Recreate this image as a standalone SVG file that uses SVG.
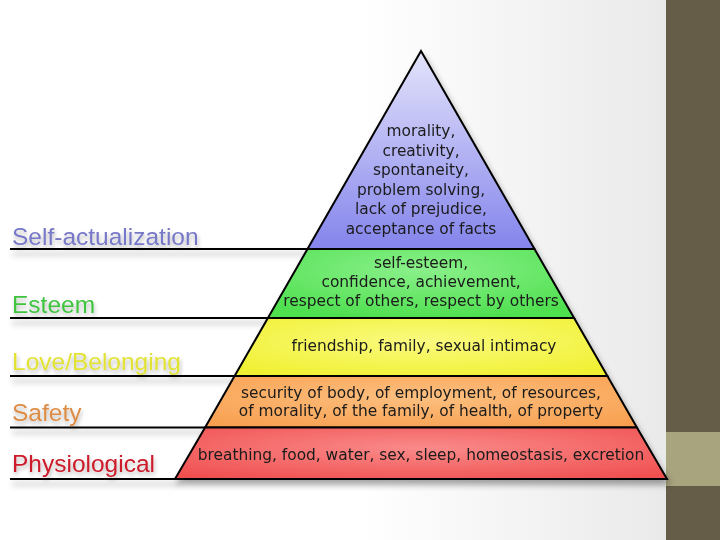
<svg xmlns="http://www.w3.org/2000/svg" width="720" height="540" viewBox="0 0 720 540">
<defs>
<linearGradient id="bg" x1="0" y1="0" x2="1" y2="0">
<stop offset="0" stop-color="#ffffff"/>
<stop offset="0.5" stop-color="#ffffff"/>
<stop offset="1" stop-color="#e6e6e6"/>
</linearGradient>
<linearGradient id="gP" x1="0" y1="0" x2="0" y2="1">
<stop offset="0" stop-color="#e4e4fb"/>
<stop offset="1" stop-color="#8484ec"/>
</linearGradient>
<radialGradient id="gG" cx="0.5" cy="0.3" r="0.7">
<stop offset="0" stop-color="#8af08a"/>
<stop offset="1" stop-color="#50e050"/>
</radialGradient>
<radialGradient id="gY" cx="0.5" cy="0.4" r="0.7">
<stop offset="0" stop-color="#fafa80"/>
<stop offset="1" stop-color="#f0f030"/>
</radialGradient>
<radialGradient id="gO" cx="0.5" cy="0.4" r="0.7">
<stop offset="0" stop-color="#fcc080"/>
<stop offset="1" stop-color="#f8a050"/>
</radialGradient>
<radialGradient id="gR" cx="0.5" cy="0.4" r="0.7">
<stop offset="0" stop-color="#fa8a8a"/>
<stop offset="1" stop-color="#f05050"/>
</radialGradient>
<filter id="sh" x="-10%" y="-50%" width="120%" height="300%">
<feGaussianBlur in="SourceAlpha" stdDeviation="3"/>
<feOffset dx="2" dy="5" result="b"/>
<feComponentTransfer><feFuncA type="linear" slope="0.35"/></feComponentTransfer>
<feMerge><feMergeNode/><feMergeNode in="SourceGraphic"/></feMerge>
</filter>
<filter id="tsh" x="-10%" y="-30%" width="120%" height="180%">
<feGaussianBlur in="SourceAlpha" stdDeviation="2"/>
<feOffset dx="1" dy="3"/>
<feComponentTransfer><feFuncA type="linear" slope="0.3"/></feComponentTransfer>
<feMerge><feMergeNode/><feMergeNode in="SourceGraphic"/></feMerge>
</filter>
</defs>
<style>
.lvl{stroke:#000;stroke-width:2;stroke-linejoin:miter}
.pt{font-family:"DejaVu Sans",sans-serif;font-size:15.4px;fill:#1a1a1a;text-anchor:middle}
.lb{font-family:"Liberation Sans",Arial,sans-serif;font-size:24.5px}
.ln{stroke:#000;stroke-width:2}
</style>
<rect x="0" y="0" width="720" height="540" fill="url(#bg)"/>
<g id="sidebar">
<rect x="666" y="0" width="54" height="540" fill="#655d48"/>
<rect x="666" y="432" width="54" height="54" fill="#a8a47e"/>
</g>
<g id="connectors" filter="url(#sh)">
<line class="ln" x1="10" y1="249" x2="310" y2="249"/>
<line class="ln" x1="10" y1="318" x2="270" y2="318"/>
<line class="ln" x1="10" y1="376" x2="237" y2="376"/>
<line class="ln" x1="10" y1="427.5" x2="207" y2="427.5"/>
<line class="ln" x1="10" y1="479" x2="177" y2="479"/>
</g>
<g id="pyramid" filter="url(#sh)">
<g id="level-self-actualization">
<polygon class="lvl" fill="url(#gP)" points="421,51 534.5,249 307.5,249"/>
<text class="pt" x="421" y="136">morality,</text>
<text class="pt" x="421" y="155.5">creativity,</text>
<text class="pt" x="421" y="175">spontaneity,</text>
<text class="pt" x="421" y="194.5">problem solving,</text>
<text class="pt" x="421" y="214">lack of prejudice,</text>
<text class="pt" x="421" y="233.5">acceptance of facts</text>
</g>
<g id="level-esteem">
<polygon class="lvl" fill="url(#gG)" points="307.5,249 534.5,249 574.1,318 267.9,318"/>
<text class="pt" x="421" y="268">self-esteem,</text>
<text class="pt" x="421" y="287">confidence, achievement,</text>
<text class="pt" x="421" y="306">respect of others, respect by others</text>
</g>
<g id="level-love">
<polygon class="lvl" fill="url(#gY)" points="267.9,318 574.1,318 607.4,376 234.6,376"/>
<text class="pt" x="424" y="351">friendship, family, sexual intimacy</text>
</g>
<g id="level-safety">
<polygon class="lvl" fill="url(#gO)" points="234.6,376 607.4,376 636.9,427.5 205.1,427.5"/>
<text class="pt" x="421" y="398">security of body, of employment, of resources,</text>
<text class="pt" x="421" y="416">of morality, of the family, of health, of property</text>
</g>
<g id="level-physiological">
<polygon class="lvl" fill="url(#gR)" points="205.1,427.5 636.9,427.5 667,479 175,479"/>
<text class="pt" x="421" y="460">breathing, food, water, sex, sleep, homeostasis, excretion</text>
</g>
</g>
<g id="labels" filter="url(#tsh)">
<g id="label-self-actualization"><text class="lb" x="12" y="245" fill="#7878c8">Self-actualization</text></g>
<g id="label-esteem"><text class="lb" x="12" y="313" fill="#40c440">Esteem</text></g>
<g id="label-love"><text class="lb" x="12" y="370" fill="#e2e236">Love/Belonging</text></g>
<g id="label-safety"><text class="lb" x="12" y="421" fill="#dd8c45">Safety</text></g>
<g id="label-physiological"><text class="lb" x="12" y="472" fill="#cc1a2a">Physiological</text></g>
</g>
</svg>
